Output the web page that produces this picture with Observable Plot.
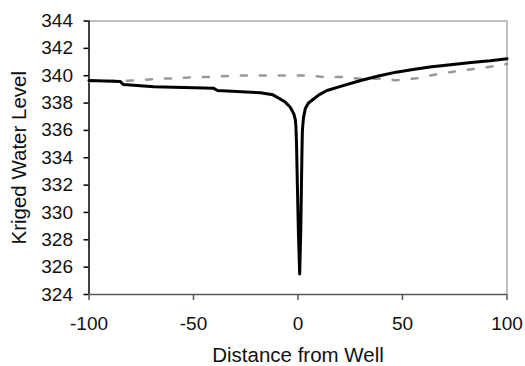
<!DOCTYPE html>
<html><head><meta charset="utf-8">
<script src="https://cdn.jsdelivr.net/npm/d3@7"></script>
<script src="https://cdn.jsdelivr.net/npm/@observablehq/plot@0.6"></script>
<style>html,body{margin:0;padding:0;background:#fff}svg{display:block}</style>
</head><body><div id="chart"></div>
<script>
const xTicks = [-100, -50, 0, 50, 100];
const yTicks = [324, 326, 328, 330, 332, 334, 336, 338, 340, 342, 344];
const xTitle = "Distance from Well";
const yTitle = "Kriged Water Level";

// Kriged water level (solid black)
const solidX = [-100, -85, -83.5, -69, -40.5, -38.5, -18, -12, -8.5, -6, -4, -3, -2, -1.3, -1.0, -0.7, -0.3, 0.2, 0.8, 1.3, 1.7, 1.9, 2.1, 2.6, 3.5, 5, 7.5, 10, 13.9, 20, 30, 39, 47, 55, 63, 74, 84, 92, 100];
const solidY = [339.65, 339.57, 339.35, 339.19, 339.09, 338.92, 338.75, 338.6, 338.3, 338.05, 337.75, 337.5, 337.2, 336.8, 336.3, 335, 332, 328.5, 325.5, 328.5, 332.5, 334.5, 336, 336.9, 337.6, 338.0, 338.3, 338.6, 338.92, 339.2, 339.65, 340.0, 340.26, 340.45, 340.63, 340.82, 340.99, 341.1, 341.24];

// Second series (dashed grey)
const dashX = [-100, -77, -68, -59, -50, -41, -32, -20, -8, 5, 12, 21, 30, 39, 47, 57, 66, 75, 85, 93, 100];
const dashY = [339.6, 339.65, 339.77, 339.81, 339.88, 339.92, 340.0, 340.02, 340.02, 340.02, 339.9, 339.9, 339.78, 339.77, 339.66, 339.82, 340.09, 340.31, 340.5, 340.68, 340.85];

const solid = solidX.map((x, i) => ({x, y: solidY[i]}));
const dashed = dashX.map((x, i) => ({x, y: dashY[i]}));

const chart = Plot.plot({
  width: 525,
  height: 366,
  marginLeft: 88.5,
  marginRight: 18.5,
  marginTop: 20.5,
  marginBottom: 72,
  style: {fontFamily: "'Liberation Sans', Arial, sans-serif", fontSize: "19px", color: "#111", background: "#fff", overflow: "visible"},
  x: {domain: [-100, 100]},
  y: {domain: [324, 344]},
  marks: [
    Plot.ruleY([344], {stroke: "#aaa", strokeWidth: 1.5}),
    Plot.ruleX([100], {stroke: "#aaa", strokeWidth: 1.5}),
    Plot.axisY({ticks: yTicks, tickFormat: d => `${d}`, tickSize: 5, tickPadding: 11, stroke: "#000", strokeWidth: 1.5, label: null, fill: "#111"}),
    Plot.axisX({ticks: xTicks, tickFormat: d => `${d}`, tickSize: 6, tickPadding: 16, stroke: "#555", strokeWidth: 1.5, label: null, fill: "#111"}),
    Plot.ruleX([-100], {stroke: "#000", strokeWidth: 1.5}),
    Plot.ruleY([324], {stroke: "#555", strokeWidth: 1.5}),
    Plot.text([xTitle], {frameAnchor: "bottom", textAnchor: "middle", lineAnchor: "top", dy: 52.5, fontSize: 20.5, fill: "#111"}),
    Plot.text([yTitle], {frameAnchor: "left", textAnchor: "middle", rotate: -90, lineAnchor: "top", dx: -77.5, fontSize: 20.5, fill: "#111"}),
    Plot.line(dashed, {x: "x", y: "y", stroke: "#999", strokeWidth: 2.5, strokeDasharray: "6,13"}),
    Plot.line(solid, {x: "x", y: "y", stroke: "#000", strokeWidth: 3, curve: "linear"})
  ]
});
document.getElementById("chart").append(chart);
</script>
</body></html>
